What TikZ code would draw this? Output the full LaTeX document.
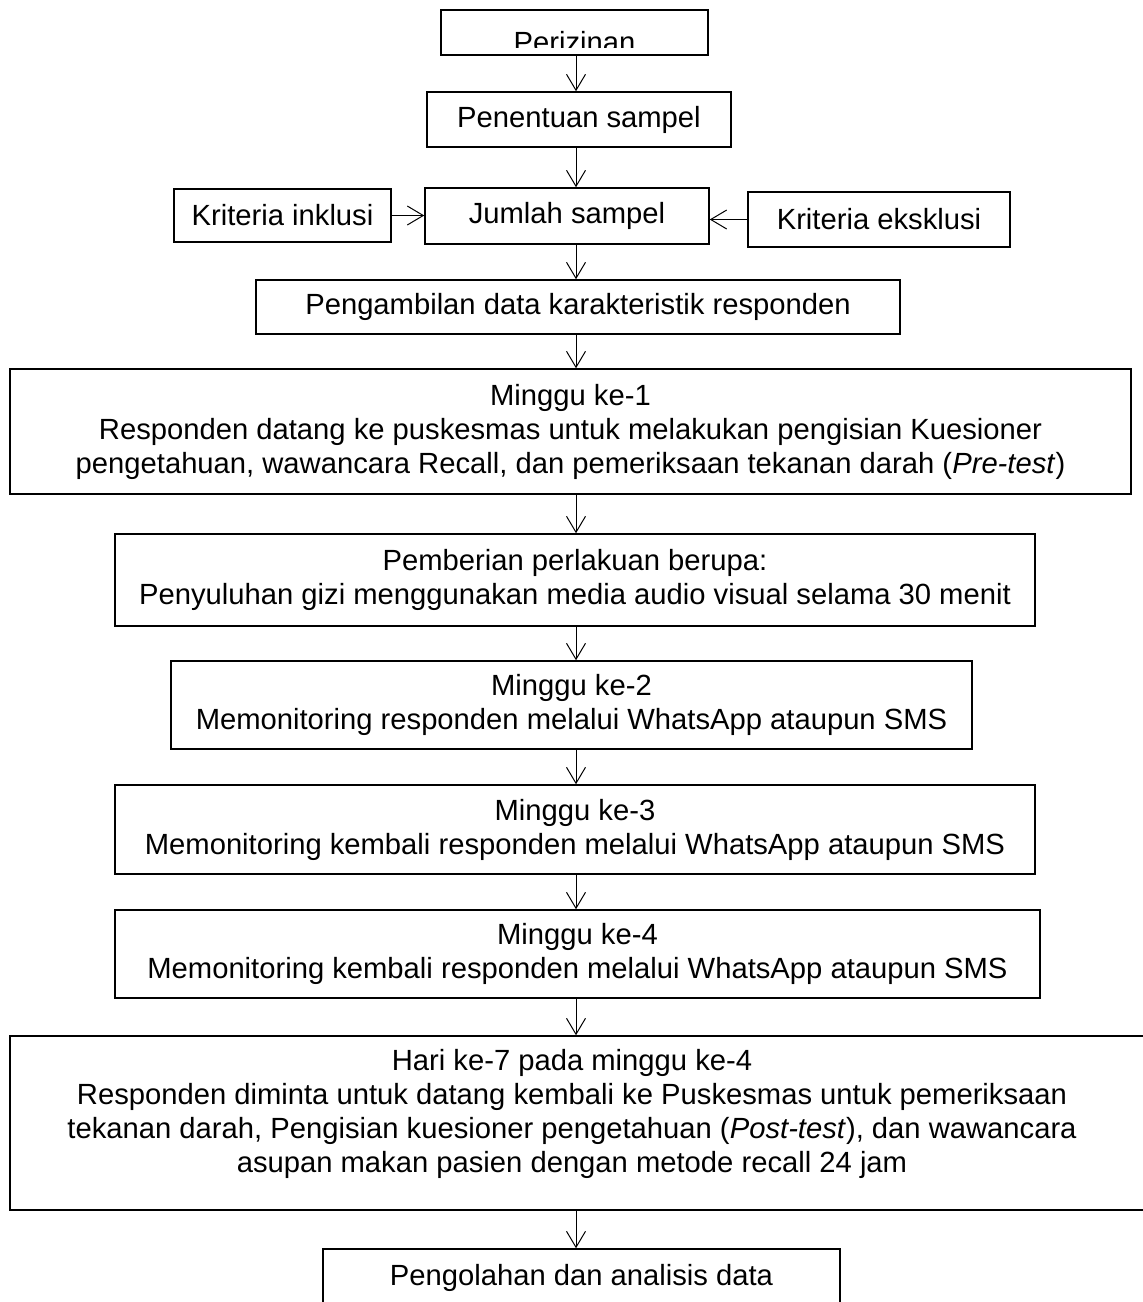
\documentclass[tikz,border=0pt]{standalone}
\usepackage{fontspec}
\setmainfont{Liberation Sans}
\usetikzlibrary{arrows.meta}

\begin{document}
\begin{tikzpicture}[x=0.5pt,y=-0.5pt,
	box/.style={draw,line width=0.75pt,inner sep=0pt,align=center,font=\fontsize{14.6}{17}\selectfont},
	txt/.style={inner sep=0pt,align=center,font=\fontsize{14.6}{17}\selectfont},
	arr/.style={-{Straight Barb[length=8pt,width=9.5pt]},line width=0.5pt}]
	\useasboundingbox (0,0) rectangle (1143,1302);
	\coordinate (ax) at (576,0);

	\node[box,minimum width=133.5pt,minimum height=22.5pt] (periz) at (574.5,32.5) {};
	\begin{scope}
		\clip (441,10) rectangle (708,47);
		\node[txt,anchor=base] (periztxt) at (574.5,52) {Perizinan};
	\end{scope}
	\node[box,minimum width=152pt,minimum height=27.5pt] (sampel) at (579,119.5) {Penentuan sampel};
	\node[box,minimum width=108.5pt,minimum height=26.5pt] (inkl) at (282.5,215.5) {Kriteria inklusi};
	\node[box,minimum width=142pt,minimum height=28pt] (jumlah) at (567,216) {Jumlah sampel};
	\node[box,minimum width=131pt,minimum height=27.5pt] (ekskl) at (879,219.5) {Kriteria eksklusi};
	\node[box,minimum width=322pt,minimum height=27pt] (ambil) at (578,307) {Pengambilan data karakteristik responden};
	\node[box,minimum width=560.5pt,minimum height=62.5pt] (m1) at (570.5,431.5) {Minggu ke-1\\Responden datang ke puskesmas untuk melakukan pengisian Kuesioner\\pengetahuan, wawancara Recall, dan pemeriksaan tekanan darah (\textit{Pre-test})};
	\node[box,minimum width=460pt,minimum height=46pt] (beri) at (575,580) {Pemberian perlakuan berupa:\\Penyuluhan gizi menggunakan media audio visual selama 30 menit};
	\node[box,minimum width=400.5pt,minimum height=44pt] (m2) at (571.5,705) {Minggu ke-2\\Memonitoring responden melalui WhatsApp ataupun SMS};
	\node[box,minimum width=460pt,minimum height=44.5pt] (m3) at (575,829.5) {Minggu ke-3\\Memonitoring kembali responden melalui WhatsApp ataupun SMS};
	\node[box,minimum width=462.5pt,minimum height=44pt] (m4) at (577.5,954) {Minggu ke-4\\Memonitoring kembali responden melalui WhatsApp ataupun SMS};
	\node[box,minimum width=575pt,minimum height=87pt] (hari) at (585,1123) {};
	\node[txt] (haritxt) at (572,1114) {Hari ke-7 pada minggu ke-4\\Responden diminta untuk datang kembali ke Puskesmas untuk pemeriksaan\\tekanan darah, Pengisian kuesioner pengetahuan (\textit{Post-test}), dan wawancara\\asupan makan pasien dengan metode recall 24 jam};
	\node[box,minimum width=258.5pt,minimum height=29pt] (olah) at (581.5,1278) {Pengolahan dan analisis data};

	\foreach \a/\b in {periz/sampel,sampel/jumlah,jumlah/ambil,ambil/m1,m1/beri,beri/m2,m2/m3,m3/m4,m4/hari,hari/olah}
		\draw[arr] (\a.south -| ax) -- (\b.north -| ax);
	\draw[arr] (inkl.east) -- (inkl.east -| jumlah.west);
	\draw[arr] (ekskl.west) -- (ekskl.west -| jumlah.east);
\end{tikzpicture}
\end{document}
